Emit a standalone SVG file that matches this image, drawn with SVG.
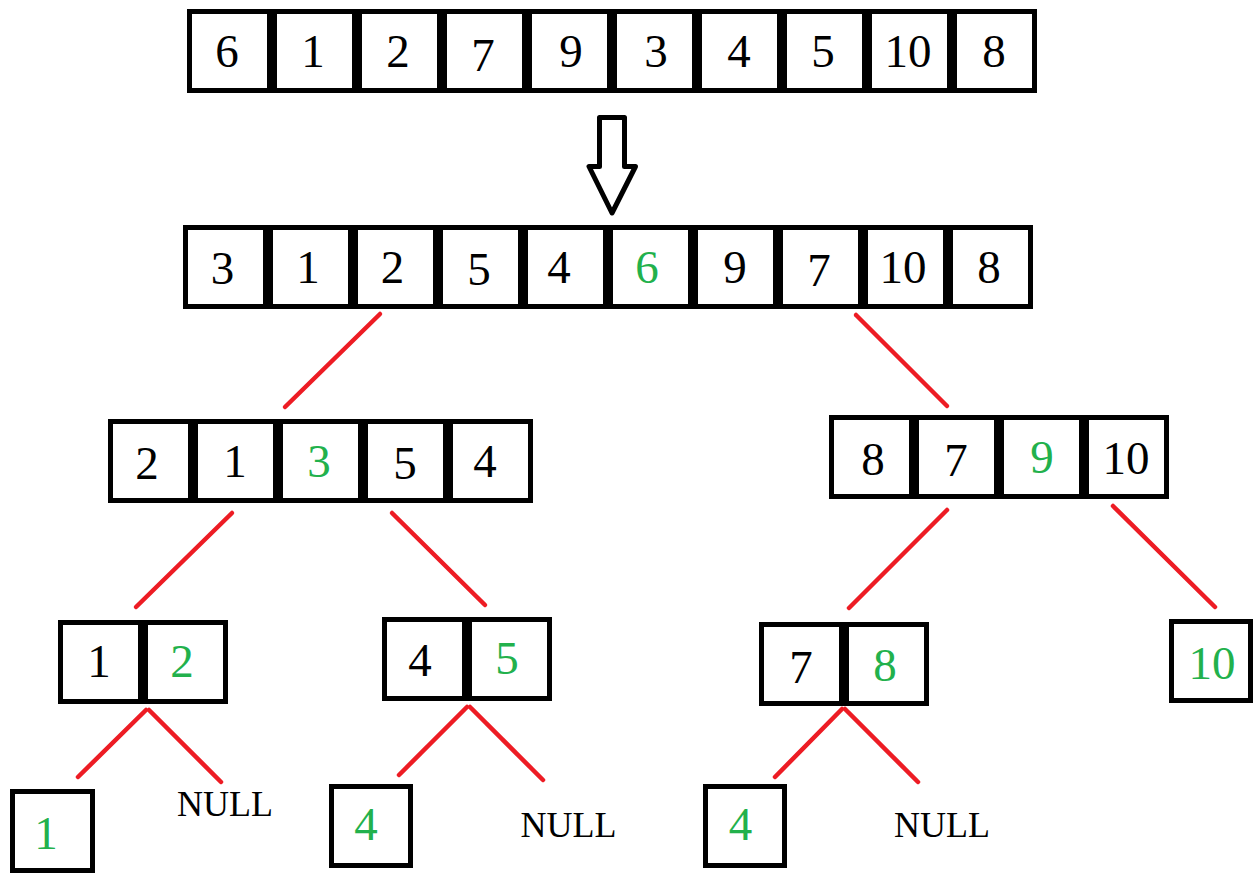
<svg xmlns="http://www.w3.org/2000/svg" width="1260" height="884" viewBox="0 0 1260 884">
<style>
.c{fill:#fff;stroke:#000;stroke-width:5}
text{font-family:'Liberation Serif','Times New Roman',serif}
.t{font-size:47px;fill:#000;text-anchor:middle}
.g{fill:#22b14c}
.n{font-size:36px;fill:#000;text-anchor:middle}
.e{stroke:#ed1c24;stroke-width:4.5;stroke-linecap:round;fill:none}
</style>
<rect width="1260" height="884" fill="#fff"/>
<g id="row1">
<rect class="c" x="189.5" y="11.5" width="80" height="79"/>
<rect class="c" x="274.5" y="11.5" width="80" height="79"/>
<rect class="c" x="359.5" y="11.5" width="80" height="79"/>
<rect class="c" x="444.5" y="11.5" width="80" height="79"/>
<rect class="c" x="529.5" y="11.5" width="80" height="79"/>
<rect class="c" x="614.5" y="11.5" width="80" height="79"/>
<rect class="c" x="699.5" y="11.5" width="80" height="79"/>
<rect class="c" x="784.5" y="11.5" width="80" height="79"/>
<rect class="c" x="869.5" y="11.5" width="80" height="79"/>
<rect class="c" x="954.5" y="11.5" width="80" height="79"/>
<text class="t" x="227" y="67">6</text>
<text class="t" x="313" y="67">1</text>
<text class="t" x="398" y="67">2</text>
<text class="t" x="483" y="71">7</text>
<text class="t" x="571" y="67">9</text>
<text class="t" x="656" y="67">3</text>
<text class="t" x="739" y="67">4</text>
<text class="t" x="823" y="67">5</text>
<text class="t" x="908" y="67">10</text>
<text class="t" x="994" y="67">8</text>
</g>
<g id="arrow">
<path d="M599.5,117.5 L624.5,117.5 L624.5,166.5 L635.5,166.5 L612,213 L589,166.5 L599.5,166.5 Z" fill="#fff" stroke="#000" stroke-width="5" stroke-linejoin="round"/>
</g>
<g id="row2">
<rect class="c" x="185.5" y="227.5" width="80" height="79"/>
<rect class="c" x="270.5" y="227.5" width="80" height="79"/>
<rect class="c" x="355.5" y="227.5" width="80" height="79"/>
<rect class="c" x="440.5" y="227.5" width="80" height="79"/>
<rect class="c" x="525.5" y="227.5" width="80" height="79"/>
<rect class="c" x="610.5" y="227.5" width="80" height="79"/>
<rect class="c" x="695.5" y="227.5" width="80" height="79"/>
<rect class="c" x="780.5" y="227.5" width="80" height="79"/>
<rect class="c" x="865.5" y="227.5" width="80" height="79"/>
<rect class="c" x="950.5" y="227.5" width="80" height="79"/>
<text class="t" x="222.5" y="284">3</text>
<text class="t" x="308" y="283">1</text>
<text class="t" x="392.5" y="283">2</text>
<text class="t" x="479" y="285">5</text>
<text class="t" x="559" y="283">4</text>
<text class="t g" x="647" y="283">6</text>
<text class="t" x="735" y="283">9</text>
<text class="t" x="819" y="286">7</text>
<text class="t" x="903" y="283">10</text>
<text class="t" x="989" y="283">8</text>
</g>
<g id="left3">
<rect class="c" x="110.5" y="421.5" width="80" height="79"/>
<rect class="c" x="195.5" y="421.5" width="80" height="79"/>
<rect class="c" x="280.5" y="421.5" width="80" height="79"/>
<rect class="c" x="365.5" y="421.5" width="80" height="79"/>
<rect class="c" x="450.5" y="421.5" width="80" height="79"/>
<text class="t" x="147" y="479">2</text>
<text class="t" x="235" y="477">1</text>
<text class="t g" x="319" y="477">3</text>
<text class="t" x="405" y="479">5</text>
<text class="t" x="485" y="477">4</text>
</g>
<g id="right3">
<rect class="c" x="831.5" y="417.5" width="80" height="79"/>
<rect class="c" x="916.5" y="417.5" width="80" height="79"/>
<rect class="c" x="1001.5" y="417.5" width="80" height="79"/>
<rect class="c" x="1086.5" y="417.5" width="80" height="79"/>
<text class="t" x="873" y="475">8</text>
<text class="t" x="956" y="476">7</text>
<text class="t g" x="1042" y="473">9</text>
<text class="t" x="1126" y="474">10</text>
</g>
<g id="n12">
<rect class="c" x="60.5" y="622.5" width="80" height="79"/>
<rect class="c" x="145.5" y="622.5" width="80" height="79"/>
<text class="t" x="99" y="677">1</text>
<text class="t g" x="182" y="677">2</text>
</g>
<g id="n45">
<rect class="c" x="384.5" y="619.5" width="80" height="79"/>
<rect class="c" x="469.5" y="619.5" width="80" height="79"/>
<text class="t" x="420" y="676">4</text>
<text class="t g" x="507" y="674">5</text>
</g>
<g id="n78">
<rect class="c" x="761.5" y="624.5" width="80" height="79"/>
<rect class="c" x="846.5" y="624.5" width="80" height="79"/>
<text class="t" x="801" y="683">7</text>
<text class="t g" x="885" y="681">8</text>
</g>
<g id="n10">
<rect class="c" x="1171.5" y="621.5" width="79" height="79"/>
<text class="t g" x="1212" y="679">10</text>
</g>
<g id="leaf1">
<rect class="c" x="12.5" y="791.5" width="80" height="79"/>
<text class="t g" x="46" y="849">1</text>
</g>
<g id="null1"><text class="n" x="225" y="816">NULL</text></g>
<g id="leaf4a">
<rect class="c" x="331.5" y="786.5" width="79" height="79"/>
<text class="t g" x="366" y="840">4</text>
</g>
<g id="null2"><text class="n" x="568.5" y="837">NULL</text></g>
<g id="leaf4b">
<rect class="c" x="705.5" y="786.5" width="79" height="79"/>
<text class="t g" x="740.5" y="840">4</text>
</g>
<g id="null3"><text class="n" x="942" y="837">NULL</text></g>
<g id="connectors">
<line class="e" x1="380" y1="314" x2="285" y2="407"/>
<line class="e" x1="856" y1="315" x2="947" y2="406"/>
<line class="e" x1="232" y1="513" x2="136" y2="607"/>
<line class="e" x1="392" y1="513" x2="485" y2="605"/>
<line class="e" x1="947" y1="510" x2="849" y2="608"/>
<line class="e" x1="1113" y1="506" x2="1215" y2="607"/>
<line class="e" x1="146" y1="710" x2="78" y2="777"/>
<line class="e" x1="149" y1="710" x2="221" y2="782"/>
<line class="e" x1="467" y1="707" x2="399" y2="775"/>
<line class="e" x1="470" y1="707" x2="543" y2="780"/>
<line class="e" x1="842" y1="709" x2="775" y2="777"/>
<line class="e" x1="845" y1="709" x2="918" y2="782"/>
</g>
</svg>
